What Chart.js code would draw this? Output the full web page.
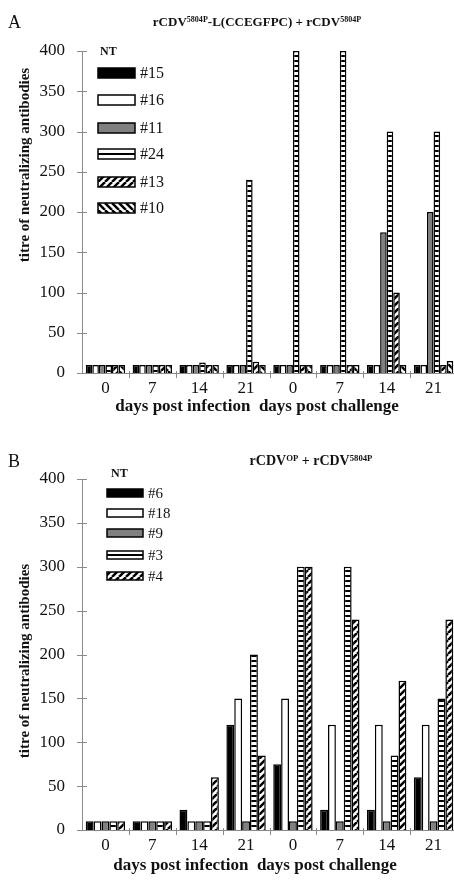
<!DOCTYPE html>
<html><head><meta charset="utf-8">
<script src="https://cdn.jsdelivr.net/npm/chart.js@4/dist/chart.umd.min.js"></script>
<style>
html,body{margin:0;padding:0;background:#fff;overflow:hidden;width:454px;height:884px;}
.wrap{position:relative;width:454px;height:884px;overflow:hidden;}
canvas{position:absolute;left:0;}
.t{position:absolute;font-family:"Liberation Serif","Times New Roman",serif;color:#111;white-space:nowrap;z-index:2;}
.t sup{font-size:0.62em;vertical-align:0.5em;line-height:0;}
</style></head><body>
<div class="wrap">
<canvas id="ca" width="460" height="425" style="top:0px"></canvas>
<canvas id="cb" width="460" height="454" style="top:430px"></canvas>
<div class="t" style="left:8px;top:12px;font-size:18px;line-height:20px;">A</div>
<div class="t" style="left:257px;top:14px;transform:translateX(-50%);font-weight:bold;font-size:13px;line-height:16px;">rCDV<sup>5804P</sup>-L(CCEGFPC) + rCDV<sup>5804P</sup></div>
<div class="t" style="left:8px;top:451px;font-size:18px;line-height:20px;">B</div>
<div class="t" style="left:311px;top:453px;transform:translateX(-50%);font-weight:bold;font-size:14px;line-height:16px;">rCDV<sup>OP</sup> + rCDV<sup>5804P</sup></div>
</div>
<script>
// ---------- DATA ----------
const categories = ['0','7','14','21','0','7','14','21'];
const yTickValues = [0,50,100,150,200,250,300,350,400];
const xTitle = 'days post infection  days post challenge';
const yTitle = 'titre of neutralizing antibodies';

// Panel A
const labelsA = ['#15','#16','#11','#24','#13','#10'];
const a15 = [10,10,10,10,10,10,10,10];
const a16 = [10,10,10,10,10,10,10,10];
const a11 = [10,10,10,10,10,10,175,200];
const a24 = [10,10,13,240,400,400,300,300];
const a13 = [10,10,10,14,10,10,100,10];
const a10 = [10,10,10,10,10,10,10,15];

// Panel B
const labelsB = ['#6','#18','#9','#3','#4'];
const b6  = [10,10,23,120,75,23,23,60];
const b18 = [10,10,10,150,150,120,120,120];
const b9  = [10,10,10,10,10,10,10,10];
const b3  = [10,10,10,200,300,300,85,150];
const b4  = [10,10,60,85,300,240,170,240];

// ---------- STYLE ----------
const FONT = '"Liberation Serif","Times New Roman",serif';
const AXIS = '#8a8a8a';

function makePattern(ctx, kind){
  const c = document.createElement('canvas');
  const g = c.getContext('2d');
  if (kind === 'hlines'){
    c.width = 4; c.height = 5;
    g.fillStyle = '#fff'; g.fillRect(0,0,4,5);
    g.fillStyle = '#000'; g.fillRect(0,0,4,2);
  } else {
    const s = 7; c.width = s; c.height = s;
    g.fillStyle = '#fff'; g.fillRect(0,0,s,s);
    g.strokeStyle = '#000'; g.lineWidth = 2.5;
    for (const k of [-s,0,s]){
      g.beginPath();
      if (kind === 'fdiag'){ g.moveTo(k, s); g.lineTo(k+s, 0); }
      else { g.moveTo(k, 0); g.lineTo(k+s, s); }
      g.stroke();
    }
  }
  return ctx.createPattern(c, 'repeat');
}
function fillFor(ctx, kind){
  if (kind === 'black') return '#000';
  if (kind === 'white') return '#fff';
  if (kind === 'gray') return '#808080';
  return makePattern(ctx, kind);
}

function decor(cfg){
  return {
    id: 'decor',
    afterDraw(chart){
      const ctx = chart.ctx, ca = chart.chartArea;
      const ys = chart.scales.y, xs = chart.scales.x;
      ctx.save();
      ctx.strokeStyle = AXIS; ctx.lineWidth = 1;
      ys.ticks.forEach((t,i)=>{
        const py = Math.round(ys.getPixelForTick(i)) + 0.5;
        ctx.beginPath(); ctx.moveTo(ca.left-5, py); ctx.lineTo(ca.left+5, py); ctx.stroke();
      });
      for (let i=1;i<categories.length;i++){
        const px = Math.round((xs.getPixelForTick(i-1)+xs.getPixelForTick(i))/2) + 0.5;
        ctx.beginPath(); ctx.moveTo(px, ca.bottom-2); ctx.lineTo(px, ca.bottom+5); ctx.stroke();
      }
      ctx.fillStyle = '#111';
      ctx.font = 'bold 15px ' + FONT;
      ctx.textAlign = 'center'; ctx.textBaseline = 'middle';
      ctx.save(); ctx.translate(cfg.yTitleX, cfg.yTitleY); ctx.rotate(-Math.PI/2);
      ctx.fillText(yTitle, 0, 0); ctx.restore();
      ctx.font = 'bold 17px ' + FONT;
      ctx.fillText(xTitle, cfg.xTitleX, cfg.xTitleY);
      ctx.font = 'bold 12px ' + FONT;
      ctx.textAlign = 'left';
      ctx.fillText('NT', cfg.ntX, cfg.ntY);
      ctx.font = cfg.legFont + 'px ' + FONT;
      chart.data.datasets.forEach((ds, i)=>{
        const yc = cfg.legY[i];
        const x0 = cfg.legX, w = cfg.legW, h = cfg.legH;
        const kind = cfg.kinds[i];
        if (kind === 'hlines'){
          ctx.fillStyle = '#fff'; ctx.fillRect(x0, yc-h/2, w, h);
          ctx.fillStyle = '#000'; ctx.fillRect(x0, yc-1, w, 2);
        } else {
          ctx.fillStyle = ds.backgroundColor; ctx.fillRect(x0, yc-h/2, w, h);
        }
        ctx.strokeStyle = '#000'; ctx.lineWidth = 1.5;
        ctx.strokeRect(x0, yc-h/2, w, h);
        ctx.fillStyle = '#111';
        ctx.fillText(ds.label, cfg.legTextX, yc+1);
      });
      ctx.restore();
    }
  };
}

function build(id, seriesLabels, seriesData, kinds, layout){
  const canvas = document.getElementById(id);
  const ctx = canvas.getContext('2d');
  layout.kinds = kinds;
  const datasets = seriesData.map((d,i)=>({
    label: seriesLabels[i],
    data: d,
    backgroundColor: fillFor(ctx, kinds[i]),
    borderColor: '#000',
    borderWidth: 1.5,
    categoryPercentage: 0.84,
    barPercentage: 1.0
  }));
  return new Chart(ctx, {
    type: 'bar',
    data: { labels: categories, datasets },
    options: {
      responsive: false, animation: false,
      layout: { padding: { top: layout.top, left: 0, right: layout.right, bottom: 0 } },
      plugins: { legend: { display: false }, tooltip: { enabled: false }, title: { display: false } },
      scales: {
        x: {
          grid: { display: false },
          border: { display: true, color: AXIS, width: 1 },
          ticks: { color: '#111', font: { family: FONT, size: 17 }, padding: layout.xPad, maxRotation: 0 },
          afterFit: s => { s.height = layout.xH; }
        },
        y: {
          min: 0, max: 400,
          grid: { display: false },
          border: { display: true, color: AXIS, width: 1 },
          ticks: { color: '#111', font: { family: FONT, size: 17 }, padding: 9 },
          afterBuildTicks: s => { s.ticks = yTickValues.map(v=>({value:v})); },
          afterFit: s => { s.width = layout.yW; }
        }
      }
    },
    plugins: [decor(layout)]
  });
}

build('ca', labelsA, [a15,a16,a11,a24,a13,a10],
  ['black','white','gray','hlines','fdiag','bdiag'],
  { top:51, right:3, xH:52, yW:82, xPad:-3,
    yTitleX:25, yTitleY:165, xTitleX:257, xTitleY:407,
    ntX:100, ntY:52, legX:98, legW:37, legH:10, legTextX:140, legFont:16,
    legY:[73,100,128,154,182,208] });

build('cb', labelsB, [b6,b18,b9,b3,b4],
  ['black','white','gray','hlines','fdiag'],
  { top:49, right:3, xH:54, yW:82, xPad:-3,
    yTitleX:25, yTitleY:231, xTitleX:255, xTitleY:436,
    ntX:111, ntY:44, legX:107, legW:36, legH:8, legTextX:148, legFont:15,
    legY:[63,83,103,125,146] });
</script>
</body></html>
